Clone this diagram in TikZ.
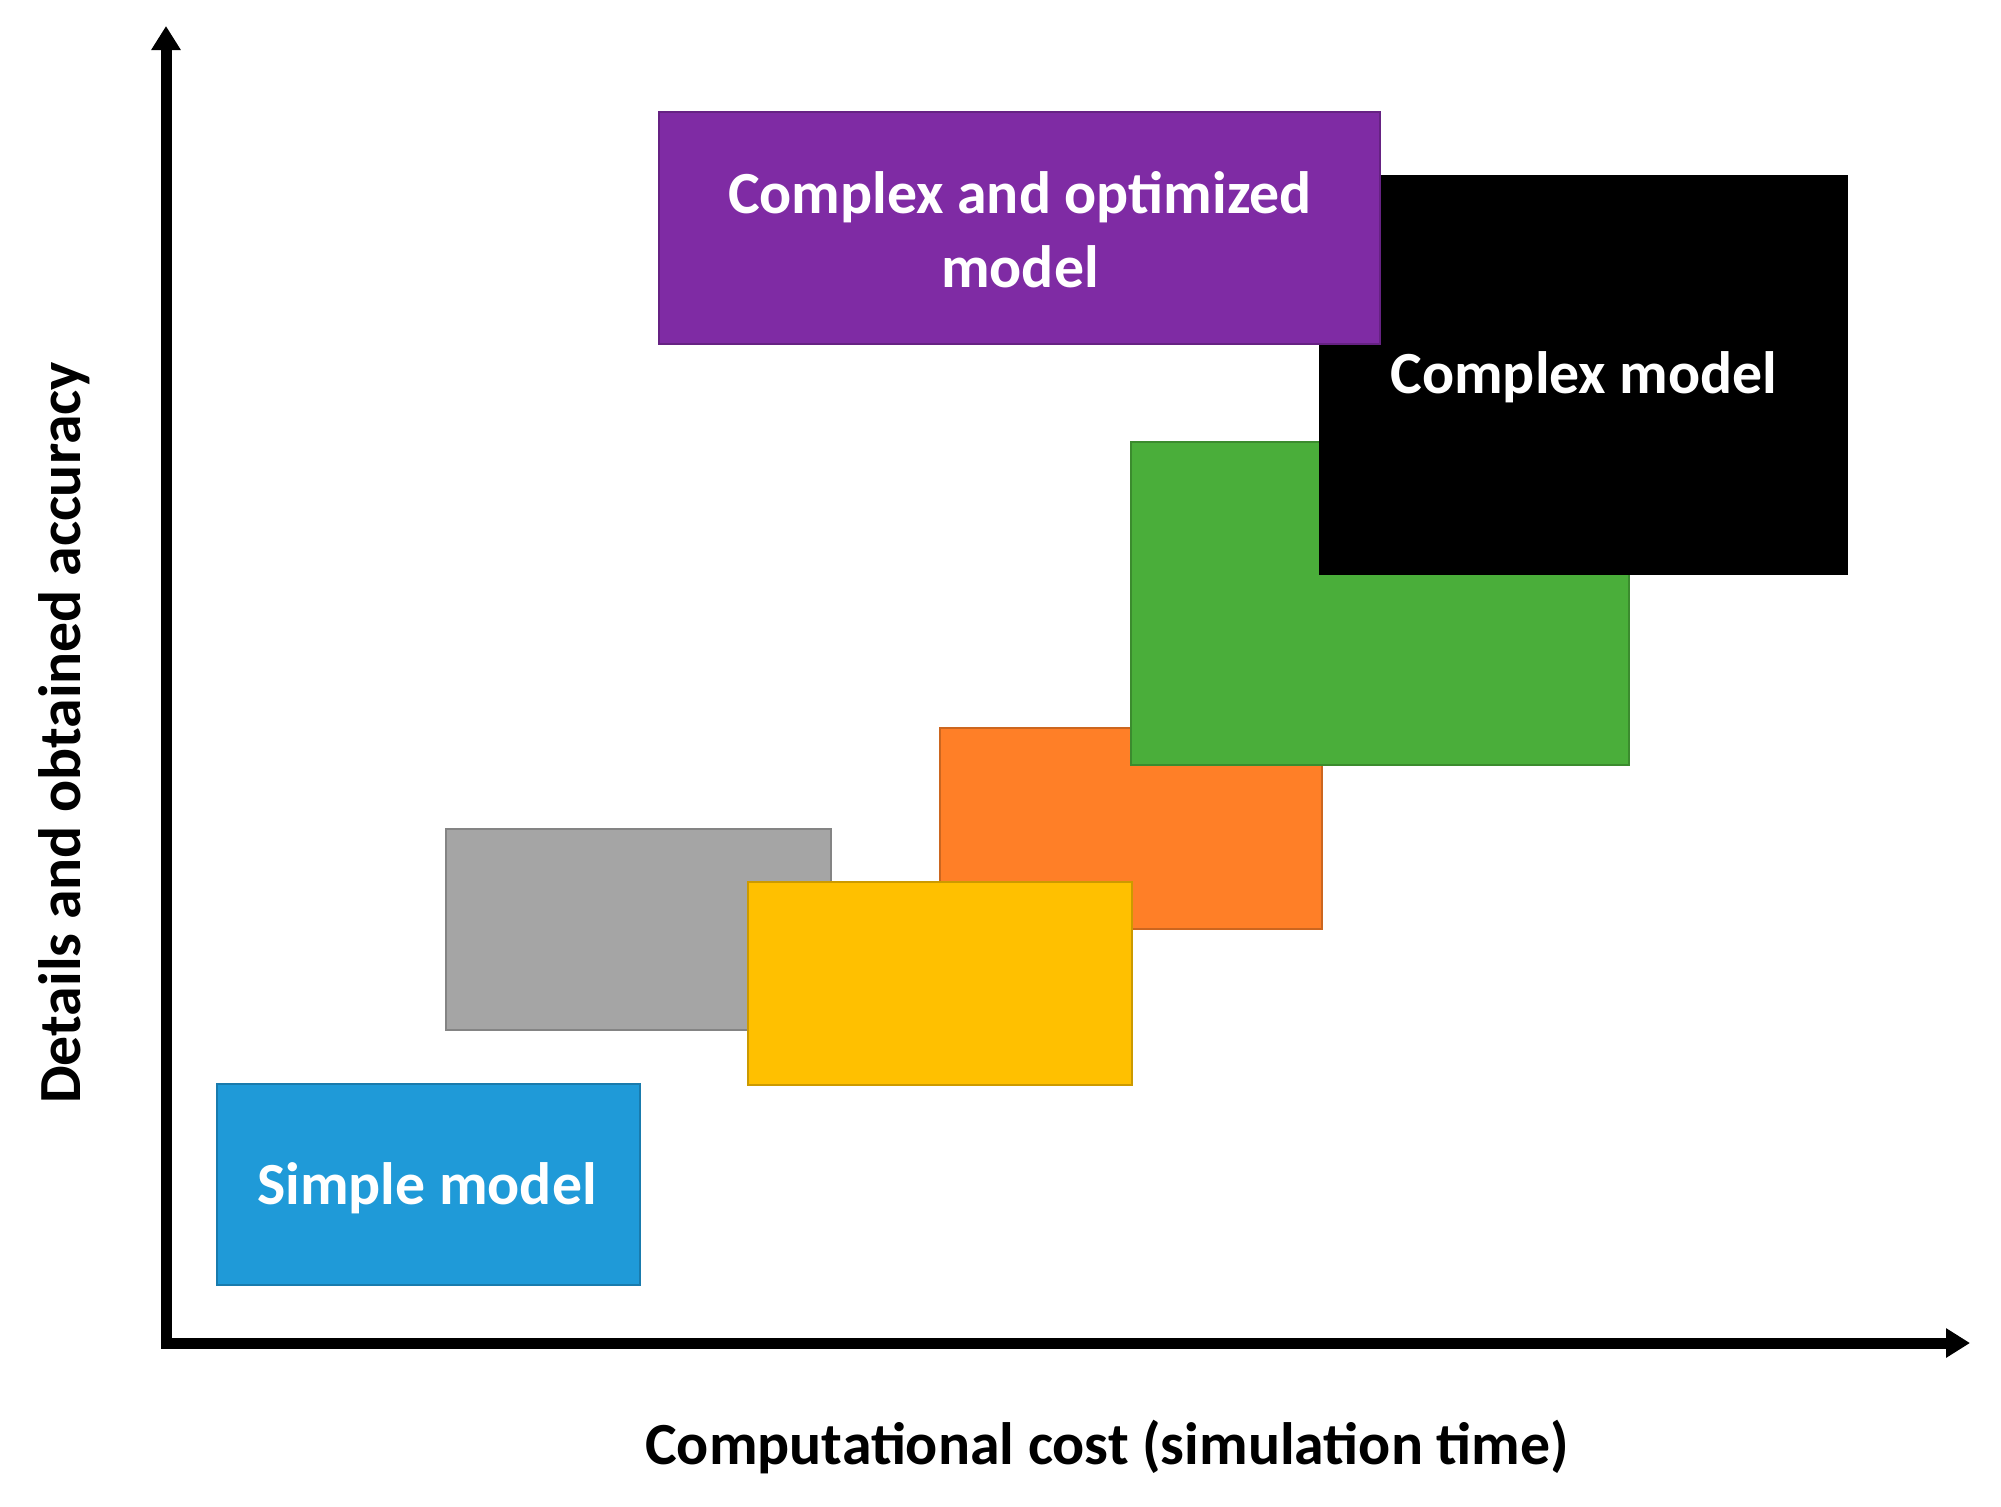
\documentclass[tikz,border=0pt]{standalone}
\usepackage{fontspec}
\setmainfont{Carlito}
\usetikzlibrary{arrows.meta}
\definecolor{simpleblue}{HTML}{1F9AD8}
\definecolor{midgray}{HTML}{A5A5A5}
\definecolor{midyellow}{HTML}{FFC000}
\definecolor{midorange}{HTML}{FF7F27}
\definecolor{midgreen}{HTML}{4AAE3A}
\definecolor{optpurple}{HTML}{7F2BA4}
\begin{document}
\begin{tikzpicture}[
	x=0.01cm, y=-0.01cm,
	axis/.style={line width=0.11cm, -{Triangle[length=0.24cm,width=0.28cm]}},
	block/.style={draw=#1!80!black, line width=0.4pt, fill=#1},
	lbl/.style={font=\fontsize{17}{21}\selectfont\bfseries, align=center}
	]
	\useasboundingbox (0,0) rectangle (2001,1506);
	% axes
	\coordinate (O) at (166,1343);
	\coordinate (Ytip) at (166,26);
	\coordinate (Xtip) at (1970,1343);
	\draw [axis] (O) ++(0,4) -- (Ytip);
	\draw [axis] (O) ++(-5,0) -- (Xtip);
	% model blocks
	\filldraw [block=simpleblue] (217,1084) rectangle (640,1285);
	\filldraw [block=midgray] (446,829) rectangle (831,1030);
	\filldraw [block=midorange] (940,728) rectangle (1322,929);
	\filldraw [block=midyellow] (748,882) rectangle (1132,1085);
	\filldraw [block=midgreen] (1131,442) rectangle (1629,765);
	\filldraw [block=black] (1320,176) rectangle (1847,574);
	\filldraw [block=optpurple] (659,112) rectangle (1380,344);
	% labels
	\node [lbl, text=white] (simple) at (427,1188) {Simple model};
	\node [lbl, text=white] (complex) at (1584,377) {Complex model};
	\node [lbl, text=white] (optim) at (1020,230) {Complex and optimized\\model};
	\node [lbl] (xlabel) at (1107,1447) {Computational cost (simulation time)};
	\node [lbl, rotate=90] (ylabel) at (64,733) {Details and obtained accuracy};
\end{tikzpicture}
\end{document}
